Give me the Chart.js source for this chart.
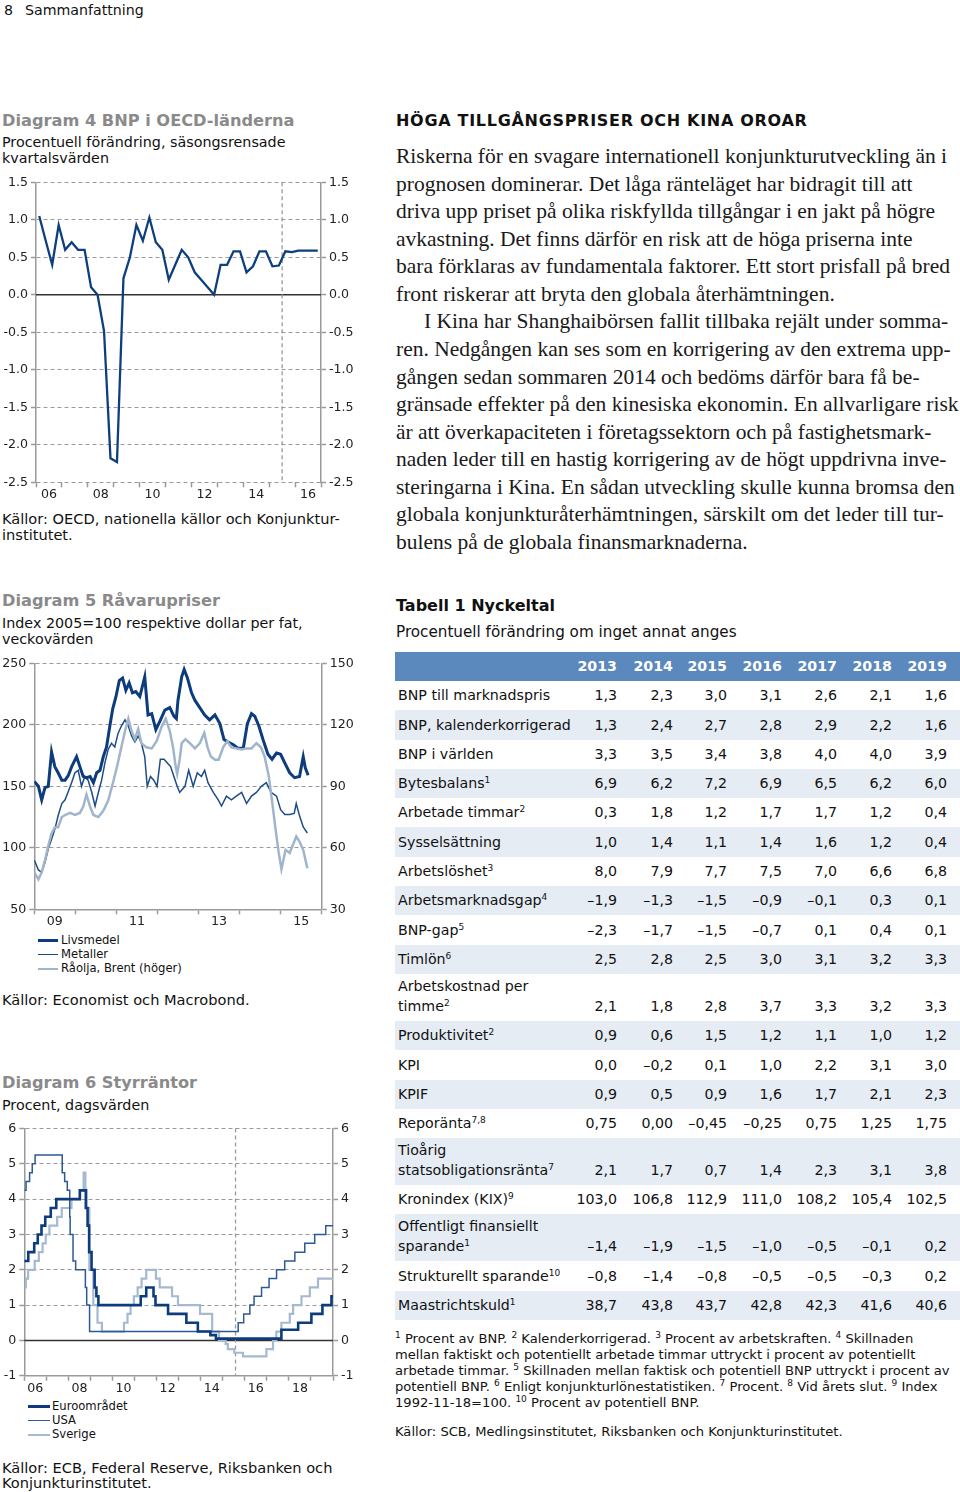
<!doctype html>
<html>
<head>
<meta charset="utf-8">
<script src="https://cdn.jsdelivr.net/npm/chart.js@4.4.0/dist/chart.umd.min.js"></script>
<style>
  body { margin: 0; background: #fff; }
  #page { position: relative; width: 960px; height: 1492px; overflow: hidden;
          font-family: "DejaVu Sans", Verdana, sans-serif; color: #111; }
  .t { position: absolute; white-space: nowrap; }
  .ctitle { font-weight: bold; font-size: 16.2px; line-height: 20px; color: #8a8a8a; }
  .csub { font-size: 14.3px; line-height: 16px; }
  .src { font-size: 14.6px; line-height: 16px; }
  .leg { font-size: 11.6px; line-height: 14px; }
  .leg i { display: inline-block; vertical-align: middle; height: 0; }
  .box { position: absolute; }
  .body { font-family: "Liberation Serif", "Times New Roman", serif; font-size: 21.5px; line-height: 27.57px; color: #1a1a1a; }
  .head { font-weight: bold; font-size: 16px; line-height: 20px; letter-spacing: 0.7px; }
  sup { font-size: 9px; vertical-align: 5px; line-height: 0; }
  #tbl { position: absolute; left: 395px; top: 652px; width: 565px; border-collapse: collapse;
         table-layout: fixed; font-size: 14.2px; }
  #tbl td { padding: 0 0 5px 0; line-height: 20px; vertical-align: bottom; text-align: right; white-space: nowrap; }
  #tbl td.lab { text-align: left; padding-left: 3px; }
  #tbl tr.hd td { background: #5b88bd; color: #fff; font-weight: bold; }
  #tbl tr.alt td { background: #e6ecf4; }
  .fn { font-size: 13.1px; line-height: 16px; }
</style>
</head>
<body>
<div id="page">
  <div class="t" style="left:4px;top:1px;font-size:14.2px;line-height:18px">8</div>
  <div class="t" style="left:25px;top:1px;font-size:14.2px;line-height:18px">Sammanfattning</div>

  <!-- Diagram 4 -->
  <div class="t ctitle" style="left:2px;top:111px">Diagram 4 BNP i OECD-länderna</div>
  <div class="t csub" style="left:2px;top:134px">Procentuell förändring, säsongsrensade<br>kvartalsvärden</div>
  <div class="box" style="left:0;top:170px;width:360px;height:335px"><canvas id="gdp"></canvas></div>
  <div class="t src" style="left:2px;top:511px">Källor: OECD, nationella källor och Konjunktur-<br>institutet.</div>

  <!-- Diagram 5 -->
  <div class="t ctitle" style="left:2px;top:591px">Diagram 5 Råvarupriser</div>
  <div class="t csub" style="left:2px;top:615px">Index 2005=100 respektive dollar per fat,<br>veckovärden</div>
  <div class="box" style="left:0;top:650px;width:360px;height:280px"><canvas id="commod"></canvas></div>
  <div class="t leg" style="left:38px;top:933px">
    <div><i style="width:20px;margin-right:3px;border-top:3px solid #0c3c7c"></i>Livsmedel</div>
    <div><i style="width:20px;margin-right:3px;border-top:1.5px solid #1d4c88"></i>Metaller</div>
    <div><i style="width:20px;margin-right:3px;border-top:2.5px solid #a0b5cc"></i>Råolja, Brent (höger)</div>
  </div>
  <div class="t src" style="left:2px;top:992px">Källor: Economist och Macrobond.</div>

  <!-- Diagram 6 -->
  <div class="t ctitle" style="left:2px;top:1073px">Diagram 6 Styrräntor</div>
  <div class="t csub" style="left:2px;top:1097px">Procent, dagsvärden</div>
  <div class="box" style="left:0;top:1118px;width:360px;height:280px"><canvas id="rates"></canvas></div>
  <div class="t leg" style="left:28px;top:1399px">
    <div><i style="width:22px;margin-right:2px;border-top:3px solid #0c3c7c"></i>Euroområdet</div>
    <div><i style="width:22px;margin-right:2px;border-top:1.5px solid #2c5a93"></i>USA</div>
    <div><i style="width:22px;margin-right:2px;border-top:2.5px solid #a5b9d0"></i>Sverige</div>
  </div>
  <div class="t src" style="left:2px;top:1460px;line-height:15px">Källor: ECB, Federal Reserve, Riksbanken och<br>Konjunkturinstitutet.</div>

  <!-- text column -->
  <div class="t head" style="left:396px;top:111px">HÖGA TILLGÅNGSPRISER OCH KINA OROAR</div>
  <div id="bodytext" class="t body" style="left:396px;top:143px"></div>

  <div class="t head" style="left:396px;top:596px;letter-spacing:0">Tabell 1 Nyckeltal</div>
  <div class="t" style="left:396px;top:622px;font-size:15.2px;line-height:20px">Procentuell förändring om inget annat anges</div>
  <table id="tbl">
    <colgroup>
      <col style="width:180px"><col style="width:42px"><col style="width:56px"><col style="width:54px">
      <col style="width:55px"><col style="width:55px"><col style="width:55px"><col style="width:55px"><col style="width:13px">
    </colgroup>
    <tbody id="tbody"></tbody>
  </table>

  <div class="t fn" style="left:395px;top:1331px">
    <div><sup>1</sup> Procent av BNP. <sup>2</sup> Kalenderkorrigerad. <sup>3</sup> Procent av arbetskraften. <sup>4</sup> Skillnaden</div>
    <div>mellan faktiskt och potentiellt arbetade timmar uttryckt i procent av potentiellt</div>
    <div>arbetade timmar. <sup>5</sup> Skillnaden mellan faktisk och potentiell BNP uttryckt i procent av</div>
    <div>potentiell BNP. <sup>6</sup> Enligt konjunkturlönestatistiken. <sup>7</sup> Procent. <sup>8</sup> Vid årets slut. <sup>9</sup> Index</div>
    <div>1992-11-18=100. <sup>10</sup> Procent av potentiell BNP.</div>
  </div>
  <div class="t fn" style="left:395px;top:1424px">Källor: SCB, Medlingsinstitutet, Riksbanken och Konjunkturinstitutet.</div>
</div>

<script>
// ---- Diagram 4: BNP i OECD, quarterly % change, 2006Q1-2016Q4
const gdpStartYear = 2006;
const gdpValues = [
  1.05, 0.72, 0.40, 0.93,
  0.60, 0.70, 0.60, 0.60,
  0.10, 0.00, -0.48, -2.18,
  -2.23, 0.22, 0.50, 0.93,
  0.72, 1.03, 0.70, 0.60,
  0.20, 0.40, 0.60, 0.50,
  0.30, 0.20, 0.10, 0.00,
  0.40, 0.40, 0.58, 0.58,
  0.30, 0.38, 0.58, 0.58,
  0.38, 0.39, 0.58, 0.57,
  0.59, 0.59, 0.59, 0.59
];
const gdpForecastStart = 2015.5;

// ---- Diagram 5: råvarupriser [år, värde]
const foodIndex = [
  [2009.00,154],[2009.10,150],[2009.18,139],[2009.26,149],[2009.34,150],[2009.42,178],[2009.50,166],[2009.58,161],
  [2009.67,155],[2009.75,155],[2009.83,159],[2009.91,166],[2010.03,174],[2010.11,166],[2010.19,158],[2010.27,157],
  [2010.36,158],[2010.44,153],[2010.52,161],[2010.60,163],[2010.68,174],[2010.76,182],[2010.84,199],[2010.91,213],
  [2010.99,223],[2011.07,236],[2011.15,238],[2011.23,228],[2011.31,234],[2011.39,226],[2011.47,227],[2011.57,223],
  [2011.69,239],[2011.77,208],[2011.86,209],[2011.96,196],[2012.06,203],[2012.18,212],[2012.30,214],[2012.40,207],
  [2012.46,205],[2012.50,220],[2012.59,239],[2012.65,245],[2012.73,238],[2012.83,226],[2012.91,220],[2013.03,214],
  [2013.15,208],[2013.27,204],[2013.40,208],[2013.52,201],[2013.62,188],[2013.72,186],[2013.84,184],[2013.96,181],
  [2014.09,181],[2014.19,201],[2014.29,209],[2014.37,207],[2014.47,199],[2014.57,188],[2014.69,176],[2014.79,172],
  [2014.90,177],[2015.00,176],[2015.10,169],[2015.22,161],[2015.34,157],[2015.46,158],[2015.55,174],[2015.60,165],
  [2015.67,159]
];
const metalIndex = [
  [2009.00,90],[2009.10,82],[2009.18,80],[2009.26,88],[2009.34,99],[2009.42,107],[2009.50,115],[2009.58,126],
  [2009.67,136],[2009.75,139],[2009.83,146],[2009.91,153],[2009.99,161],[2010.07,163],[2010.15,150],[2010.23,158],
  [2010.31,155],[2010.40,145],[2010.48,134],[2010.56,145],[2010.64,155],[2010.72,169],[2010.80,180],[2010.88,185],
  [2010.96,182],[2011.04,193],[2011.12,199],[2011.21,204],[2011.29,199],[2011.37,191],[2011.45,186],[2011.53,191],
  [2011.61,185],[2011.69,174],[2011.75,150],[2011.83,158],[2011.91,155],[2011.99,150],[2012.07,172],[2012.16,172],
  [2012.24,169],[2012.32,166],[2012.40,158],[2012.48,150],[2012.54,145],[2012.67,150],[2012.76,163],[2012.87,150],
  [2012.97,161],[2013.07,158],[2013.15,163],[2013.23,153],[2013.36,145],[2013.48,139],[2013.56,134],[2013.68,142],
  [2013.80,139],[2013.92,142],[2014.05,145],[2014.17,136],[2014.29,142],[2014.41,145],[2014.53,150],[2014.65,153],
  [2014.77,145],[2014.90,142],[2015.00,131],[2015.10,127],[2015.22,127],[2015.33,128],[2015.38,136],[2015.46,126],
  [2015.55,117],[2015.65,112]
];
const brentUsd = [
  [2009.00,48],[2009.10,44.6],[2009.18,48],[2009.26,54],[2009.34,61],[2009.42,67],[2009.50,70],[2009.58,70],
  [2009.67,75],[2009.75,76],[2009.87,77],[2009.99,76],[2010.11,77],[2010.19,80],[2010.27,86],[2010.36,80],
  [2010.44,76],[2010.56,75],[2010.68,78],[2010.80,83],[2010.92,92],[2011.02,100],[2011.12,109],[2011.21,117],
  [2011.29,123],[2011.37,117],[2011.45,113],[2011.53,118],[2011.61,111],[2011.73,109],[2011.86,108.5],[2011.98,112],
  [2012.10,119],[2012.20,123],[2012.30,117],[2012.38,109],[2012.44,100],[2012.48,96],[2012.54,103],[2012.59,111],
  [2012.68,113],[2012.79,111],[2012.91,108.5],[2013.03,111],[2013.14,116],[2013.22,109],[2013.30,104.5],[2013.40,103],
  [2013.49,103],[2013.60,109],[2013.70,112],[2013.80,109],[2013.92,108.5],[2014.05,108],[2014.17,108.5],[2014.29,108.5],
  [2014.41,111],[2014.52,109],[2014.61,104.5],[2014.71,95],[2014.79,83],[2014.87,70],[2014.95,58],[2015.02,49.5],
  [2015.12,59],[2015.22,57.5],[2015.30,61.5],[2015.38,65.5],[2015.46,63],[2015.55,59],[2015.65,50]
];

// ---- Diagram 6: styrräntor, datum för ändring och ny nivå
const euroDates = [2006.00,2006.18,2006.45,2006.61,2006.78,2006.95,2007.20,2007.45,2008.52,2008.79,2008.87,2008.94,
  2009.05,2009.19,2009.27,2009.36,2011.28,2011.53,2011.86,2011.95,2012.52,2013.35,2013.87,2014.44,2014.69,
  2017.66,2018.42,2019.02,2019.52,2019.93,2020.00];
const euroRates = [2.25,2.5,2.75,3.0,3.25,3.5,3.75,4.0,4.25,3.75,3.25,2.5,
  2.0,1.5,1.25,1.0,1.25,1.5,1.25,1.0,0.75,0.5,0.25,0.15,0.05,
  0.3,0.5,0.75,1.0,1.25,1.25];
const usaDates = [2006.00,2006.08,2006.24,2006.36,2006.49,2007.72,2007.83,2007.95,2008.06,2008.08,2008.21,2008.33,
  2008.77,2008.83,2008.96,2015.70,2015.95,2016.23,2016.42,2016.76,2017.10,2017.44,2017.81,2018.27,2018.72,
  2019.17,2019.67,2020.00];
const usaRates = [4.25,4.5,4.75,5.0,5.25,4.75,4.5,4.25,3.5,3.0,2.25,2.0,
  1.5,1.0,0.25,0.5,0.75,1.0,1.25,1.5,1.75,2.0,2.25,2.5,2.75,
  3.0,3.25,3.25];
const sweDates = [2006.00,2006.07,2006.17,2006.47,2006.66,2006.83,2006.97,2007.14,2007.49,2007.70,2008.14,2008.52,
  2008.69,2008.77,2008.83,2008.95,2009.13,2009.32,2009.52,2010.52,2010.68,2010.82,2010.97,2011.14,2011.32,
  2011.53,2011.97,2012.14,2012.70,2012.97,2013.97,2014.52,2014.83,2015.13,2015.23,2015.52,2015.92,2016.98,
  2017.28,2017.43,2017.66,2018.04,2018.19,2018.57,2018.95,2019.32,2020.00];
const sweRates = [1.5,1.75,2.0,2.25,2.5,2.75,3.0,3.25,3.5,3.75,4.0,4.25,
  4.75,4.25,3.75,2.0,1.0,0.5,0.25,0.5,0.75,1.0,1.25,1.5,1.75,
  2.0,1.75,1.5,1.25,1.0,0.75,0.25,0.0,-0.1,-0.25,-0.35,-0.45,-0.25,
  0.0,0.25,0.5,0.75,1.0,1.25,1.5,1.75,1.75];
const ratesForecastStart = 2015.58;

// ---- Tabell 1
const tableYears = [2013, 2014, 2015, 2016, 2017, 2018, 2019];
const rowLabels = ['BNP till marknadspris', 'BNP, kalenderkorrigerad', 'BNP i världen', 'Bytesbalans',
  'Arbetade timmar', 'Sysselsättning', 'Arbetslöshet', 'Arbetsmarknadsgap', 'BNP-gap', 'Timlön',
  'Arbetskostnad per\ntimme', 'Produktivitet', 'KPI', 'KPIF', 'Reporänta', 'Tioårig\nstatsobligationsränta',
  'Kronindex (KIX)', 'Offentligt finansiellt\nsparande', 'Strukturellt sparande', 'Maastrichtskuld'];
const rowNotes = ['', '', '', '1', '2', '', '3', '4', '5', '6', '2', '2', '', '', '7,8', '7', '9', '1', '10', '1'];
const rowValues = [
  [1.3, 2.3, 3.0, 3.1, 2.6, 2.1, 1.6],
  [1.3, 2.4, 2.7, 2.8, 2.9, 2.2, 1.6],
  [3.3, 3.5, 3.4, 3.8, 4.0, 4.0, 3.9],
  [6.9, 6.2, 7.2, 6.9, 6.5, 6.2, 6.0],
  [0.3, 1.8, 1.2, 1.7, 1.7, 1.2, 0.4],
  [1.0, 1.4, 1.1, 1.4, 1.6, 1.2, 0.4],
  [8.0, 7.9, 7.7, 7.5, 7.0, 6.6, 6.8],
  [-1.9, -1.3, -1.5, -0.9, -0.1, 0.3, 0.1],
  [-2.3, -1.7, -1.5, -0.7, 0.1, 0.4, 0.1],
  [2.5, 2.8, 2.5, 3.0, 3.1, 3.2, 3.3],
  [2.1, 1.8, 2.8, 3.7, 3.3, 3.2, 3.3],
  [0.9, 0.6, 1.5, 1.2, 1.1, 1.0, 1.2],
  [0.0, -0.2, 0.1, 1.0, 2.2, 3.1, 3.0],
  [0.9, 0.5, 0.9, 1.6, 1.7, 2.1, 2.3],
  [0.75, 0.00, -0.45, -0.25, 0.75, 1.25, 1.75],
  [2.1, 1.7, 0.7, 1.4, 2.3, 3.1, 3.8],
  [103.0, 106.8, 112.9, 111.0, 108.2, 105.4, 102.5],
  [-1.4, -1.9, -1.5, -1.0, -0.5, -0.1, 0.2],
  [-0.8, -1.4, -0.8, -0.5, -0.5, -0.3, 0.2],
  [38.7, 43.8, 43.7, 42.8, 42.3, 41.6, 40.6]
];
const rowDecimals = rowLabels.map((l) => l === 'Reporänta' ? 2 : 1);

const bodyLines = [
  'Riskerna för en svagare internationell konjunkturutveckling än i',
  'prognosen dominerar. Det låga ränteläget har bidragit till att',
  'driva upp priset på olika riskfyllda tillgångar i en jakt på högre',
  'avkastning. Det finns därför en risk att de höga priserna inte',
  'bara förklaras av fundamentala faktorer. Ett stort prisfall på bred',
  'front riskerar att bryta den globala återhämtningen.',
  '\tI Kina har Shanghaibörsen fallit tillbaka rejält under somma-',
  'ren. Nedgången kan ses som en korrigering av den extrema upp-',
  'gången sedan sommaren 2014 och bedöms därför bara få be-',
  'gränsade effekter på den kinesiska ekonomin. En allvarligare risk',
  'är att överkapaciteten i företagssektorn och på fastighetsmark-',
  'naden leder till en hastig korrigering av de högt uppdrivna inve-',
  'steringarna i Kina. En sådan utveckling skulle kunna bromsa den',
  'globala konjunkturåterhämtningen, särskilt om det leder till tur-',
  'bulens på de globala finansmarknaderna.'
];

// ---- text and table
const bodyEl = document.getElementById('bodytext');
bodyLines.forEach((line) => {
  const d = document.createElement('div');
  if (line.startsWith('\t')) { d.style.paddingLeft = '28px'; line = line.slice(1); }
  d.textContent = line;
  bodyEl.appendChild(d);
});

function fmt(v, dec) {
  return v.toFixed(dec).replace('.', ',').replace('-', '\u2013');
}
const tbody = document.getElementById('tbody');
let hd = '<tr class="hd" style="height:29px"><td class="lab"></td>';
tableYears.forEach((y) => { hd += '<td>' + y + '</td>'; });
tbody.innerHTML = hd + '<td></td></tr>';
rowLabels.forEach((label, i) => {
  const tr = document.createElement('tr');
  const twoLine = label.includes('\n');
  tr.style.height = twoLine ? '47px' : '29.3px';
  if (i % 2 === 1) tr.className = 'alt';
  let html = '<td class="lab">' + label.replace('\n', '<br>') + (rowNotes[i] ? '<sup>' + rowNotes[i] + '</sup>' : '') + '</td>';
  rowValues[i].forEach((v) => { html += '<td>' + fmt(v, rowDecimals[i]) + '</td>'; });
  tr.innerHTML = html + '<td></td>';
  tbody.appendChild(tr);
});

// ---- charts
const FONT = '"DejaVu Sans", Verdana, sans-serif';
const AXIS = '#9a9a9a';
const tickFont = { family: FONT, size: 12.6 };
Chart.defaults.font.family = FONT;
Chart.defaults.animation = false;

const refLines = {
  id: 'refLines',
  beforeDatasetsDraw(chart, args, opts) {
    const { ctx, chartArea: a, scales } = chart;
    ctx.save();
    if (opts.zero) {
      const py = scales.y.getPixelForValue(0);
      ctx.strokeStyle = '#333';
      ctx.lineWidth = 1.5;
      ctx.beginPath(); ctx.moveTo(a.left, py); ctx.lineTo(a.right, py); ctx.stroke();
    }
    if (opts.vline != null) {
      const px = scales.x.getPixelForValue(opts.vline);
      ctx.strokeStyle = AXIS;
      ctx.lineWidth = 1.3;
      ctx.setLineDash([4, 3]);
      ctx.beginPath(); ctx.moveTo(px, a.top); ctx.lineTo(px, a.bottom); ctx.stroke();
    }
    ctx.restore();
  }
};

function xYears(min, max, labelled, height, border) {
  return {
    type: 'linear', min: min, max: max,
    afterBuildTicks: (s) => {
      const t = [];
      for (let v = min; v <= max; v += 0.5) t.push({ value: v });
      s.ticks = t;
    },
    afterFit: (s) => { s.height = height; },
    ticks: {
      autoSkip: false, maxRotation: 0, minRotation: 0, padding: 0, font: tickFont, color: '#222',
      callback: (v) => {
        const yr = Math.floor(v);
        return (v - yr === 0.5 && labelled.includes(yr)) ? String(yr).slice(2) : '';
      }
    },
    grid: {
      drawOnChartArea: false, tickLength: 5, tickWidth: 1.5, tickBorderDash: [],
      tickColor: (c) => (c.tick && Number.isInteger(c.tick.value)) ? AXIS : 'rgba(0,0,0,0)'
    },
    border: { display: border, color: AXIS, width: 1.5 }
  };
}

function yScale(position, min, max, step, width, decimals, onArea) {
  return {
    type: 'linear', position: position, min: min, max: max, display: true,
    afterFit: (s) => { s.width = width; },
    ticks: { stepSize: step, font: tickFont, color: '#222', padding: 3,
      callback: (v) => Number(v).toFixed(decimals) },
    grid: { drawOnChartArea: onArea, color: AXIS, lineWidth: 1, tickLength: 5, tickWidth: 1.5,
      tickColor: AXIS, tickBorderDash: [] },
    border: { display: true, color: AXIS, width: 1.5, dash: onArea ? [4, 3] : [] }
  };
}

function baseOptions(padTop, scales, ref) {
  return {
    responsive: true, maintainAspectRatio: false, animation: false,
    layout: { padding: { top: padTop, left: 0, right: 0, bottom: 0 } },
    plugins: { legend: { display: false }, tooltip: { enabled: false }, refLines: ref },
    elements: { point: { radius: 0 }, line: { tension: 0 } },
    scales: scales
  };
}

const pairs = (arr) => arr.map((p) => ({ x: p[0], y: p[1] }));
const steps = (dates, vals) => dates.map((d, i) => ({ x: d, y: vals[i] }));

// Diagram 4
new Chart(document.getElementById('gdp'), {
  type: 'line',
  data: {
    datasets: [{
      label: 'BNP i OECD',
      data: gdpValues.map((v, i) => ({ x: gdpStartYear + i / 4 + 0.125, y: v })),
      borderColor: '#0d3f7f', borderWidth: 2.3
    }]
  },
  options: baseOptions(12.3, {
    x: xYears(2006, 2017, [2006, 2008, 2010, 2012, 2014, 2016], 22.7, false),
    y: yScale('left', -2.5, 1.5, 0.5, 36, 1, true),
    y2: yScale('right', -2.5, 1.5, 0.5, 39, 1, false)
  }, { zero: true, vline: gdpForecastStart }),
  plugins: [refLines]
});

// Diagram 5
new Chart(document.getElementById('commod'), {
  type: 'line',
  data: {
    datasets: [
      { label: 'Livsmedel', data: pairs(foodIndex), borderColor: '#0c3c7c', borderWidth: 3, yAxisID: 'y', order: 1 },
      { label: 'Metaller', data: pairs(metalIndex), borderColor: '#1d4c88', borderWidth: 1.5, yAxisID: 'y', order: 2 },
      { label: 'Råolja, Brent (höger)', data: pairs(brentUsd), borderColor: '#a0b5cc', borderWidth: 2.5, yAxisID: 'y2', order: 0 }
    ]
  },
  options: baseOptions(13.3, {
    x: xYears(2009, 2016, [2009, 2011, 2013, 2015], 20.7, true),
    y: yScale('left', 50, 250, 50, 34.3, 0, true),
    y2: yScale('right', 30, 150, 30, 38.3, 0, false)
  }, { zero: false, vline: null }),
  plugins: [refLines]
});

// Diagram 6
new Chart(document.getElementById('rates'), {
  type: 'line',
  data: {
    datasets: [
      { label: 'Euroområdet', data: steps(euroDates, euroRates), borderColor: '#0c3c7c', borderWidth: 2.6, stepped: true, order: 0 },
      { label: 'USA', data: steps(usaDates, usaRates), borderColor: '#2c5a93', borderWidth: 1.5, stepped: true, order: 1 },
      { label: 'Sverige', data: steps(sweDates, sweRates), borderColor: '#a5b9d0', borderWidth: 2.2, stepped: true, order: 2 }
    ]
  },
  options: baseOptions(10.3, {
    x: xYears(2006, 2020, [2006, 2008, 2010, 2012, 2014, 2016, 2018], 22.3, true),
    y: yScale('left', -1, 6, 1, 24.3, 0, true),
    y2: yScale('right', -1, 6, 1, 27, 0, false)
  }, { zero: true, vline: ratesForecastStart }),
  plugins: [refLines]
});
</script>
</body>
</html>
